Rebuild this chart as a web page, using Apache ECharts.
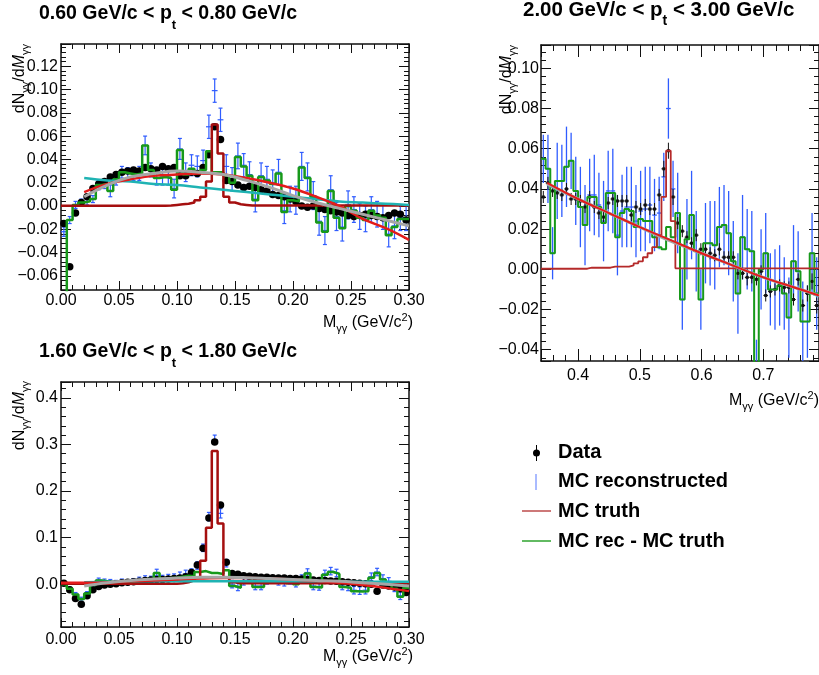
<!DOCTYPE html>
<html>
<head>
<meta charset="utf-8">
<script src="https://cdn.jsdelivr.net/npm/echarts@6/dist/echarts.min.js"></script>
<style>
  html, body { margin: 0; background: #fff; }
  #chart { width: 819px; height: 675px; }
</style>
</head>
<body>
<div id="chart"></div>
<script>
// ---- binning / ranges (data coordinates) ----
const binLo = [0, 0.34, 0];
const binW = [0.005, 0.0075, 0.005];
const xRange = [[0, 0.30], [0.34, 0.79], [0, 0.30]];
const yRange = [[-0.072, 0.139], [-0.0456, 0.1116], [-0.092, 0.434]];
const xStep = [0.05, 0.1, 0.05];
const yStep = [0.02, 0.02, 0.1];
const xDigits = [2, 1, 2];
const yDigits = [2, 2, 1];
const ptBins = [['0.60', '0.80'], ['2.00', '3.00'], ['1.60', '1.80']];
const legendNames = ['Data', 'MC reconstructed', 'MC truth', 'MC rec - MC truth'];

// ---- panel 1 : 0.60 < pt < 0.80 ----
const data1 = [-0.015,-0.052,-0.006,0.003,0.008,0.015,0.019,0.021,0.025,0.027,
  0.029,0.030,0.031,0.030,0.033,0.032,0.031,0.034,0.032,0.033,
  0.026,0.026,0.029,0.028,0.033,0.044,0.068,0.057,0.022,0.021,
  0.018,0.016,0.017,0.016,0.014,0.013,0.010,0.009,0.008,0.006,
  0.004,0.000,-0.001,0.000,-0.002,-0.003,-0.004,-0.005,-0.006,-0.008,
  -0.009,-0.008,-0.007,-0.008,-0.009,-0.010,-0.008,-0.006,-0.007,-0.012];
const mcRec1 = [-0.022,-0.012,0.001,0.003,0.004,0.006,0.018,0.019,0.013,0.023,
  0.029,0.028,0.027,0.028,0.052,0.031,0.024,0.025,0.025,0.015,
  0.049,0.029,0.035,0.034,0.039,0.068,0.099,0.074,0.034,0.023,
  0.043,0.035,0.027,0.006,0.026,0.023,0.020,0.029,-0.004,0.006,
  0.005,0.034,0.025,0.009,-0.013,-0.021,0.014,-0.009,-0.018,0.001,
  -0.003,-0.009,-0.011,-0.003,-0.007,-0.009,-0.024,-0.017,-0.010,-0.010];
const mcRecErr1 = [0.004,0.003,0.003,0.003,0.003,0.003,0.004,0.004,0.005,0.005,
  0.005,0.005,0.005,0.006,0.008,0.006,0.006,0.007,0.007,0.008,
  0.009,0.008,0.009,0.009,0.009,0.010,0.010,0.010,0.010,0.010,
  0.011,0.010,0.011,0.011,0.011,0.011,0.011,0.011,0.011,0.011,
  0.012,0.012,0.012,0.012,0.012,0.012,0.012,0.012,0.012,0.012,
  0.011,0.011,0.011,0.011,0.011,0.011,0.011,0.011,0.011,0.011];
const truth1 = [0.0003,0.0003,0.0003,0.0003,0.0003,0.0003,0.0003,0.0003,0.0003,0.0003,
  0.0003,0.0003,0.0003,0.0003,0.0003,0.0003,0.0003,0.0003,0.0005,0.001,
  0.0015,0.002,0.003,0.005,0.008,0.021,0.070,0.045,0.008,0.003,
  0.0015,0.001,0.0005,0.0005,0.0005,0.0005,0.0005,0.0005,0.0005,0.0005,
  0.0005,0.0005,0.0005,0.0005,0.0005,0.0005,0.0005,0.0005,0.0005,0.0005,
  0.0005,0.0005,0.0005,0.0005,0.0005,0.0005,0.0005,0.0005,0.0005,0.0005];
const diff1 = [-0.090,-0.012,0.001,0.003,0.004,0.006,0.018,0.019,0.013,0.023,
  0.029,0.028,0.027,0.028,0.052,0.031,0.024,0.025,0.024,0.014,
  0.048,0.027,0.032,0.029,0.031,0.047,0.029,0.029,0.026,0.020,
  0.042,0.034,0.026,0.005,0.025,0.022,0.019,0.028,-0.005,0.005,
  0.004,0.033,0.024,0.008,-0.014,-0.022,0.013,-0.010,-0.019,0.000,
  -0.004,-0.010,-0.012,-0.004,-0.008,-0.010,-0.025,-0.018,-0.011,-0.011];
const fitX1 = [0.02,0.04,0.06,0.08,0.10,0.12,0.14,0.16,0.18,0.20,0.22,0.24,0.26,0.28,0.30];
const redFit1 = [0.012,0.019,0.023,0.026,0.027,0.028,0.027,0.024,0.020,0.015,0.008,0.000,-0.011,-0.019,-0.029];
const cyanFit1 = [0.024,0.022,0.021,0.019,0.018,0.016,0.014,0.012,0.010,0.008,0.006,0.004,0.003,0.002,0.001];
const grayFit1 = [0.008,0.018,0.025,0.028,0.030,0.029,0.027,0.022,0.016,0.009,0.003,-0.002,-0.007,-0.012,-0.017];

// ---- panel 2 : 2.00 < pt < 3.00 ----
const data2 = [0.036,0.043,0.039,0.038,0.037,0.040,0.035,0.035,0.034,0.031,
  0.036,0.031,0.028,0.026,0.033,0.035,0.034,0.034,0.034,0.027,
  0.031,0.030,0.032,0.030,0.030,0.037,0.050,0.059,0.036,0.023,
  0.019,0.016,0.013,0.017,0.010,0.010,0.008,0.007,0.010,0.006,
  0.006,0.006,-0.002,-0.002,-0.004,-0.004,-0.005,-0.001,-0.013,-0.011,
  -0.010,-0.008,-0.009,-0.009,-0.015,-0.005,-0.018,-0.012,-0.006,-0.018];
const dataErr2 = [0.003,0.003,0.003,0.003,0.003,0.003,0.003,0.003,0.003,0.003,
  0.003,0.003,0.003,0.003,0.003,0.003,0.003,0.003,0.003,0.003,
  0.003,0.003,0.003,0.003,0.003,0.003,0.004,0.004,0.004,0.003,
  0.003,0.003,0.003,0.003,0.003,0.003,0.003,0.003,0.003,0.003,
  0.003,0.003,0.003,0.003,0.004,0.003,0.003,0.003,0.003,0.003,
  0.003,0.003,0.003,0.003,0.003,0.003,0.003,0.004,0.004,0.004];
const mcRec2 = [0.055,0.050,0.008,0.044,0.044,0.051,0.054,0.039,0.031,0.022,
  0.037,0.037,0.032,0.024,0.039,0.039,0.017,0.029,0.031,0.031,
  0.024,0.029,0.030,0.032,0.027,0.028,0.046,0.080,0.040,0.028,
  -0.015,0.015,0.027,0.009,-0.015,0.013,0.013,0.012,0.021,0.022,
  0.018,0.004,-0.012,0.016,0.010,0.009,-0.060,0.000,0.008,-0.010,
  -0.010,-0.008,-0.012,-0.024,0.004,-0.001,-0.026,-0.026,0.008,-0.012];
const mcRecErr2 = [0.012,0.017,0.013,0.019,0.018,0.020,0.014,0.017,0.020,0.020,
  0.018,0.020,0.016,0.020,0.020,0.021,0.020,0.018,0.020,0.020,
  0.018,0.020,0.021,0.019,0.018,0.018,0.012,0.015,0.014,0.020,
  0.015,0.020,0.022,0.020,0.015,0.020,0.021,0.022,0.020,0.020,
  0.021,0.020,0.020,0.021,0.020,0.020,0.025,0.020,0.020,0.018,
  0.020,0.020,0.018,0.020,0.018,0.020,0.020,0.018,0.020,0.018];
const truth2 = [0.0003,0.0003,0.0003,0.0003,0.0003,0.0003,0.0003,0.0003,0.0003,0.0003,
  0.0008,0.0008,0.0008,0.0008,0.0008,0.0013,0.0013,0.0013,0.0013,0.002,
  0.003,0.004,0.006,0.008,0.011,0.017,0.036,0.059,0.024,0.0005,
  0.0005,0.0005,0.0005,0.0005,0.0005,0.0005,0.0005,0.0005,0.0005,0.0005,
  0.0005,0.0005,0.0005,0.0005,0.0005,0.0005,0.0005,0.0005,0.0005,0.0005,
  0.0005,0.0005,0.0005,0.0005,0.0005,0.0005,0.0005,0.0005,0.0005,0.0005];
const diff2 = [0.055,0.050,0.008,0.044,0.044,0.051,0.054,0.039,0.031,0.022,
  0.036,0.036,0.031,0.023,0.038,0.038,0.016,0.028,0.030,0.029,
  0.021,0.025,0.024,0.024,0.016,0.011,0.010,0.021,0.016,0.028,
  -0.015,0.015,0.027,0.009,-0.015,0.013,0.013,0.012,0.021,0.022,
  0.018,0.004,-0.012,0.016,0.010,0.009,-0.060,0.000,0.008,-0.010,
  -0.010,-0.008,-0.012,-0.024,0.004,-0.001,-0.026,-0.026,0.008,-0.012];
const fitX2 = [0.35,0.40,0.45,0.50,0.55,0.60,0.65,0.70,0.75,0.79];
const redFit2 = [0.043,0.035,0.028,0.021,0.0145,0.008,0.002,-0.004,-0.009,-0.013];
const cyanFit2 = [0.042,0.035,0.028,0.021,0.0145,0.008,0.002,-0.004,-0.009,-0.0135];
const grayFit2 = [0.0425,0.035,0.028,0.021,0.014,0.008,0.002,-0.004,-0.009,-0.013];

// ---- panel 3 : 1.60 < pt < 1.80 ----
const data3 = [0.002,-0.012,-0.031,-0.043,-0.025,-0.012,-0.005,-0.002,0.000,0.001,
  0.003,0.004,0.005,0.006,0.008,0.009,0.010,0.010,0.011,0.012,
  0.013,0.016,0.025,0.041,0.077,0.142,0.305,0.170,0.047,0.023,
  0.021,0.018,0.017,0.016,0.015,0.015,0.014,0.013,0.013,0.012,
  0.012,0.011,0.010,0.009,0.008,0.008,0.007,0.006,0.005,0.004,
  0.003,0.002,0.001,0.000,-0.015,-0.002,-0.004,-0.006,-0.010,-0.018];
const mcRec3 = [0.001,-0.009,-0.021,-0.031,-0.019,-0.001,0.009,0.007,0.005,0.003,
  0.006,0.004,0.007,0.009,0.012,0.011,0.025,0.012,0.014,0.015,
  0.018,0.022,0.025,0.040,0.078,0.145,0.310,0.152,0.045,0.000,
  -0.006,0.006,0.010,-0.004,-0.004,0.008,0.010,0.006,0.004,0.008,
  0.002,0.012,0.025,-0.004,-0.005,0.022,0.028,0.024,-0.004,-0.006,
  -0.013,-0.014,-0.013,0.016,0.026,0.012,0.006,-0.008,-0.025,-0.006];
const mcRecErr3 = [0.003,0.003,0.003,0.003,0.003,0.004,0.004,0.004,0.005,0.005,
  0.005,0.005,0.005,0.006,0.006,0.006,0.007,0.007,0.007,0.007,
  0.008,0.008,0.008,0.008,0.008,0.009,0.010,0.010,0.008,0.008,
  0.008,0.008,0.008,0.008,0.008,0.008,0.008,0.008,0.008,0.008,
  0.008,0.008,0.008,0.008,0.008,0.008,0.008,0.008,0.008,0.008,
  0.008,0.008,0.008,0.008,0.008,0.008,0.008,0.008,0.008,0.008];
const truth3 = [0.001,0.001,0.001,0.001,0.001,0.001,0.001,0.001,0.001,0.001,
  0.001,0.001,0.001,0.001,0.001,0.001,0.001,0.001,0.001,0.001,
  0.002,0.004,0.008,0.014,0.050,0.121,0.286,0.130,0.015,0.004,
  0.002,0.002,0.002,0.002,0.002,0.002,0.002,0.002,0.002,0.002,
  0.002,0.002,0.002,0.002,0.002,0.002,0.002,0.002,0.002,0.002,
  0.002,0.002,0.002,0.002,0.002,0.002,0.002,0.002,0.002,0.002];
const diff3 = [0.000,-0.010,-0.022,-0.032,-0.020,-0.002,0.008,0.006,0.004,0.002,
  0.005,0.003,0.006,0.008,0.011,0.010,0.024,0.011,0.013,0.014,
  0.016,0.018,0.017,0.026,0.028,0.024,0.024,0.022,0.030,-0.004,
  -0.008,0.004,0.008,-0.006,-0.006,0.006,0.008,0.004,0.002,0.006,
  0.000,0.010,0.023,-0.006,-0.007,0.020,0.026,0.022,-0.006,-0.008,
  -0.015,-0.016,-0.015,0.014,0.024,0.010,0.004,-0.010,-0.027,-0.008];
const fitX3 = [0.00,0.02,0.04,0.06,0.08,0.10,0.12,0.14,0.16,0.18,0.20,0.22,0.24,0.26,0.28,0.30];
const redFit3 = [0.003,0.003,0.004,0.006,0.008,0.010,0.012,0.013,0.013,0.012,0.010,0.007,0.003,-0.002,-0.008,-0.015];
const cyanFit3 = [null,0.004,0.005,0.006,0.006,0.006,0.006,0.006,0.006,0.006,0.006,0.006,0.005,0.005,0.005,0.005];
const grayFit3 = [null,-0.004,0.003,0.008,0.011,0.013,0.015,0.015,0.014,0.012,0.010,0.008,0.006,0.003,0.000,-0.004];

const panels = [
  { data: data1, mcRec: mcRec1, mcErr: mcRecErr1, truth: truth1, diff: diff1, fitX: fitX1, fits: [cyanFit1, redFit1, grayFit1] },
  { data: data2, dataErr: dataErr2, mcRec: mcRec2, mcErr: mcRecErr2, truth: truth2, diff: diff2, fitX: fitX2, fits: [cyanFit2, grayFit2, redFit2] },
  { data: data3, mcRec: mcRec3, mcErr: mcRecErr3, truth: truth3, diff: diff3, fitX: fitX3, fits: [cyanFit3, redFit3, grayFit3] }
];

// ---- layout & style ----
const FONT = '"Liberation Sans", Arial, Helvetica, sans-serif';
const grids = [
  { left: 61, top: 44, width: 348, height: 246 },
  { left: 541, top: 45, width: 278, height: 316 },
  { left: 61, top: 382, width: 348, height: 245 }
];
const xLabelMargin = [3, 7, 5];
const yLabelMargin = [3, 2, 3];
const C = {
  blue: '#2f5cff', truth: '#a50f0f', diff: '#17991a', black: '#000',
  fitRed: '#e31b1b', fitCyan: '#1fb3b3', fitGray: '#a6a6a6'
};
const fitColors = [
  [C.fitCyan, C.fitRed, C.fitGray],
  [C.fitCyan, C.fitGray, C.fitRed],
  [C.fitCyan, C.fitRed, C.fitGray]
];

function fmt(d) {
  return v => (v < -1e-9 ? '\u2212' : '') + Math.abs(v).toFixed(d);
}

const xAxes = [], yAxes = [];
for (let g = 0; g < 3; g++) {
  const tl = g === 1 ? 12 : 9;
  const common = {
    type: 'value', gridIndex: g,
    axisLine: { show: true, onZero: false, lineStyle: { color: '#111', width: 1.5 } },
    axisTick: { show: true, inside: true, length: tl, lineStyle: { color: '#111', width: 1 } },
    minorTick: { show: true, splitNumber: 5, length: Math.round(tl / 2), lineStyle: { color: '#111', width: 1 } },
    splitLine: { show: false }
  };
  ['bottom', 'top'].forEach(pos => {
    xAxes.push(Object.assign({}, common, {
      position: pos, min: xRange[g][0], max: xRange[g][1],
      minInterval: xStep[g], maxInterval: xStep[g], splitNumber: 5,
      axisLabel: {
        show: pos === 'bottom', color: '#000', fontFamily: FONT, fontSize: 16,
        margin: xLabelMargin[g], formatter: fmt(xDigits[g]),
        showMinLabel: g !== 1, showMaxLabel: g !== 1
      }
    }));
  });
  ['left', 'right'].forEach(pos => {
    yAxes.push(Object.assign({}, common, {
      position: pos, min: yRange[g][0], max: yRange[g][1],
      minInterval: yStep[g], maxInterval: yStep[g], splitNumber: 10,
      axisTick: Object.assign({}, common.axisTick, { length: 10 }),
      minorTick: Object.assign({}, common.minorTick, { length: 5 }),
      axisLabel: {
        show: pos === 'left', color: '#000', fontFamily: FONT, fontSize: 16,
        margin: yLabelMargin[g], formatter: fmt(yDigits[g]),
        showMinLabel: false, showMaxLabel: false
      }
    }));
  });
}

function histSeries(g, vals, color, width) {
  const pts = vals.map((v, i) => [binLo[g] + i * binW[g], v]);
  pts.push([binLo[g] + vals.length * binW[g], vals[vals.length - 1]]);
  return {
    type: 'line', xAxisIndex: 2 * g, yAxisIndex: 2 * g, step: 'end', data: pts,
    symbol: 'none', clip: true, silent: true, lineStyle: { color: color, width: width }
  };
}

function errorSeries(g, vals, errs, color, lw, cap, marker) {
  const w = binW[g];
  return {
    type: 'custom', xAxisIndex: 2 * g, yAxisIndex: 2 * g, clip: true, silent: true,
    encode: { x: 0, y: 1 },
    data: vals.map((v, i) => [binLo[g] + (i + 0.5) * w, v, errs[i]]),
    renderItem: function (params, api) {
      const x = api.value(0), y = api.value(1), e = api.value(2);
      const a = api.coord([x - w / 2, y]), b = api.coord([x + w / 2, y]);
      const t = api.coord([x, y + e]), d = api.coord([x, y - e]);
      const st = { stroke: color, lineWidth: lw };
      const kids = [
        { type: 'line', shape: { x1: a[0], y1: a[1], x2: b[0], y2: b[1] }, style: st },
        { type: 'line', shape: { x1: t[0], y1: t[1], x2: d[0], y2: d[1] }, style: st }
      ];
      if (cap) {
        kids.push({ type: 'line', shape: { x1: t[0] - cap, y1: t[1], x2: t[0] + cap, y2: t[1] }, style: st });
        kids.push({ type: 'line', shape: { x1: d[0] - cap, y1: d[1], x2: d[0] + cap, y2: d[1] }, style: st });
      }
      if (marker) {
        const c = api.coord([x, y]);
        kids.push({ type: 'rect', shape: { x: c[0] - 1.5, y: c[1] - 1.5, width: 3, height: 3 }, style: { fill: color } });
      }
      return { type: 'group', children: kids };
    }
  };
}

const series = [];
panels.forEach((p, g) => {
  series.push(errorSeries(g, p.mcRec, p.mcErr, C.blue, g === 1 ? 1.3 : 1.2, g === 1 ? 0 : 2, false));
  if (g === 1) {
    series.push(errorSeries(g, p.data, p.dataErr, '#111', 1, 0, true));
  } else {
    series.push({
      type: 'scatter', xAxisIndex: 2 * g, yAxisIndex: 2 * g, symbolSize: 7.5, silent: true,
      itemStyle: { color: C.black, opacity: 1 },
      data: p.data.map((v, i) => [binLo[g] + (i + 0.5) * binW[g], v])
    });
  }
  series.push(histSeries(g, p.diff, C.diff, g === 1 ? 2 : 2.5));
  series.push(histSeries(g, p.truth, g === 1 ? '#b52a2a' : C.truth, g === 1 ? 1.8 : 2.5));
  p.fits.forEach((f, k) => {
    const col = fitColors[g][k];
    series.push({
      type: 'line', xAxisIndex: 2 * g, yAxisIndex: 2 * g, smooth: 0.4, symbol: 'none', silent: true,
      clip: true, data: p.fitX.map((x, i) => [x, f[i]]),
      lineStyle: { color: col, width: col === C.fitGray ? 3 : (g === 1 ? 2 : 2.5) }
    });
  });
});

// ---- texts (titles, axis titles, legend) ----
const rm = { fontSize: 16, fontFamily: FONT, lineHeight: 22, fill: '#000' };
const rsub = { fontSize: 11, fontFamily: FONT, lineHeight: 22, verticalAlign: 'bottom', fill: '#000' };
const rsup = { fontSize: 11, fontFamily: FONT, lineHeight: 22, verticalAlign: 'top', fill: '#000' };
const rit = Object.assign({}, rm, { fontStyle: 'italic' });

function title(x, y, pt, size) {
  return {
    type: 'text', x: x, y: y, silent: true,
    style: {
      text: '{b|' + pt[0] + ' GeV/c < p}{s|t}{b| < ' + pt[1] + ' GeV/c}',
      align: 'left', verticalAlign: 'top',
      rich: {
        b: { fontSize: size, fontWeight: 'bold', fontFamily: FONT, lineHeight: 36, fill: '#000' },
        s: { fontSize: Math.round(size * 0.68), fontWeight: 'bold', fontFamily: FONT, lineHeight: 36, verticalAlign: 'bottom', fill: '#000' }
      }
    }
  };
}
function xTitle(x, y) {
  return {
    type: 'text', x: x, y: y, silent: true,
    style: { text: '{m|M}{s|γγ}{m| (GeV/c}{p|2}{m|)}', align: 'right', verticalAlign: 'middle', rich: { m: rm, s: rsub, p: rsup } }
  };
}
function yTitle(x, y) {
  return {
    type: 'text', x: x, y: y, rotation: Math.PI / 2, silent: true,
    style: { text: '{m|dN}{s|γγ}{m|/d}{i|M}{s|γγ}', align: 'right', verticalAlign: 'middle', rich: { m: rm, s: rsub, i: rit } }
  };
}

const legendY = [452, 481, 511, 541];
const legendText = legendNames.map((n, k) => ({
  type: 'text', x: 558, y: legendY[k], silent: true,
  style: { text: n, font: 'bold 20px ' + FONT, fill: '#000', align: 'left', verticalAlign: 'middle' }
}));
const legendMarks = [
  { type: 'line', shape: { x1: 536.5, y1: 445, x2: 536.5, y2: 461 }, style: { stroke: '#000', lineWidth: 1 } },
  { type: 'circle', shape: { cx: 536.5, cy: 453, r: 3.5 }, style: { fill: '#000' } },
  { type: 'line', shape: { x1: 536, y1: 474, x2: 536, y2: 490 }, style: { stroke: '#5577ff', lineWidth: 1 } },
  { type: 'line', shape: { x1: 522, y1: 511, x2: 551, y2: 511 }, style: { stroke: '#bd4b4b', lineWidth: 1.5 } },
  { type: 'line', shape: { x1: 522, y1: 541, x2: 551, y2: 541 }, style: { stroke: '#2ea32e', lineWidth: 1.5 } }
];

const graphic = [
  title(39, -4, ptBins[0], 19.5),
  title(523, -8, ptBins[1], 20.5),
  title(39, 334, ptBins[2], 19.5),
  xTitle(413, 323), xTitle(819, 401), xTitle(413, 657),
  yTitle(20, 44), yTitle(507, 45), yTitle(20, 381)
].concat(legendMarks, legendText);

const chart = echarts.init(document.getElementById('chart'));
chart.setOption({
  animation: false,
  backgroundColor: '#fff',
  grid: grids.map(g => Object.assign({ containLabel: false }, g)),
  xAxis: xAxes,
  yAxis: yAxes,
  series: series,
  graphic: graphic
});
</script>
</body>
</html>
